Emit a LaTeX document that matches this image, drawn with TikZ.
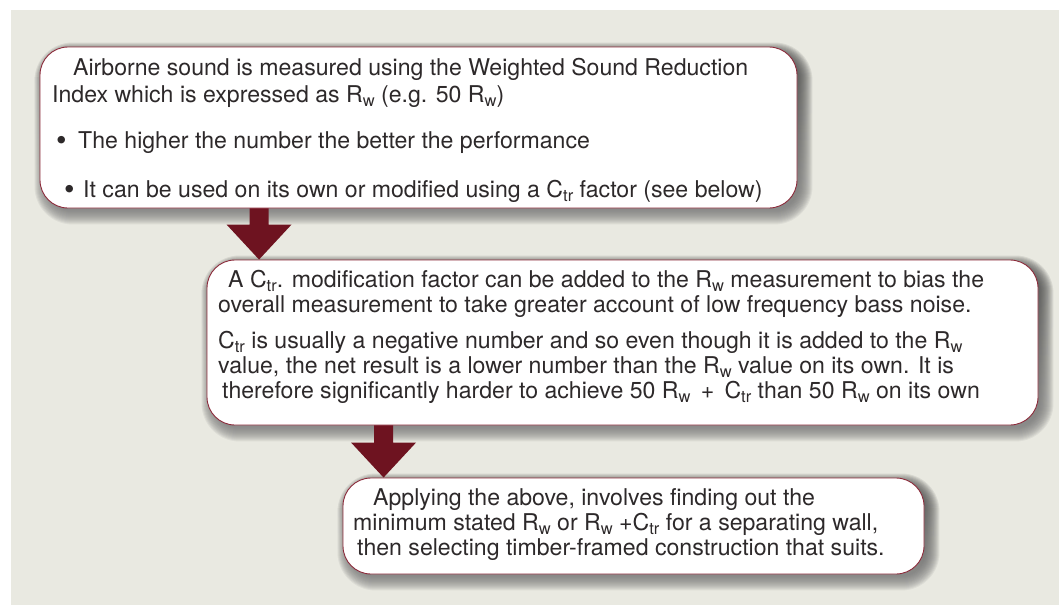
\documentclass[tikz,border=0pt]{standalone}
\usepackage{fontspec}
\setmainfont{TeX Gyre Heros}
\usetikzlibrary{calc}
\definecolor{panel}{RGB}{233,233,225}
\definecolor{maroon}{RGB}{110,19,32}
\definecolor{edgec}{RGB}{140,43,59}
\definecolor{shade}{RGB}{125,30,45}
\definecolor{ink}{RGB}{45,41,42}
\newcommand{\lo}[1]{\raisebox{-0.2em}{\fontsize{16.5}{16.5}\selectfont #1}}
\newcommand{\bul}{\raisebox{-0.12em}{\scalebox{1.3}{\textbullet}}}
\newcommand{\boxshadow}[1]{%
  \foreach \e in {-4,...,10}{%
    \pgfmathsetmacro\rr{28+\e}%
    \fill[shade, opacity=0.055, rounded corners=\rr pt]
      ($(#1.north west)+(5-\e,6-\e)$) rectangle ($(#1.south east)+(5+\e,6+\e)$);}}
\newcommand{\blockarrow}[1]{%
  \fill[maroon] ($(#1)+(-9.5,-62)$) -- ($(#1)+(-9.5,-35)$) -- ($(#1)+(-32.5,-35)$) -- (#1)
    -- ($(#1)+(32.5,-35)$) -- ($(#1)+(9.5,-35)$) -- ($(#1)+(9.5,-62)$) -- cycle;}
\pgfdeclarelayer{bg}
\pgfsetlayers{bg,main}
\begin{document}
\begin{tikzpicture}[x=1pt,y=-1pt,
  box/.style={draw=edgec, line width=0.9pt, fill=white, rounded corners=28pt, inner sep=0pt},
  txt/.style={anchor=base west, inner sep=0pt, text=ink, font=\fontsize{23.1}{26}\selectfont}]
\useasboundingbox (0,0) rectangle (1059,605);
% boxes
\node[box, minimum width=757pt, minimum height=161pt] (b1) at (418.5,127.5) {};
\node[box, minimum width=831pt, minimum height=165pt] (b2) at (622.5,342.5) {};
\node[box, minimum width=581pt, minimum height=96pt] (b3) at (633.5,526) {};
\coordinate (t1) at ($(b2.north west)+(52.5,0)$);
\coordinate (t2) at ($(b3.north west)+(41,0)$);
\begin{pgfonlayer}{bg}
  \fill[panel] (11,10) rectangle (1059,605);
  \boxshadow{b1}
  \boxshadow{b2}
  \boxshadow{b3}
  \blockarrow{t1}
  \blockarrow{t2}
\end{pgfonlayer}
% box 1 text
\node[txt] (l11) at (73,75) {Airborne sound is measured using the Weighted Sound Reduction};
\node[txt] (l12) at (52,102) {Index which is expressed as R\lo{w} (e.g. 50 R\lo{w})};
\node[txt] (bu1) at (56,148) {\bul};
\node[txt] (l13) at (78,148) {The higher the number the better the performance};
\node[txt] (bu2) at (64,197) {\bul};
\node[txt] (l14) at (83,197) {It can be used on its own or modified using a C\lo{tr} factor (see below)};
% box 2 text
\node[txt] (l21) at (228,287) {A C\lo{tr}. modification factor can be added to the R\lo{w} measurement to bias the};
\node[txt] (l22) at (218,312) {overall measurement to take greater account of low frequency bass noise.};
\node[txt] (l23) at (218,348) {C\lo{tr} is usually a negative number and so even though it is added to the R\lo{w}};
\node[txt] (l24) at (218,373) {value, the net result is a lower number than the R\lo{w} value on its own. It is};
\node[txt] (l25) at (222,398) {therefore significantly harder to achieve 50 R\lo{w} \,+\, C\lo{tr} than 50 R\lo{w} on its own};
% box 3 text
\node[txt] (l31) at (373,505) {Applying the above, involves finding out the};
\node[txt] (l32) at (353,530) {minimum stated R\lo{w} or R\lo{w} +C\lo{tr} for a separating wall,};
\node[txt] (l33) at (357,555) {then selecting timber-framed construction that suits.};
\end{tikzpicture}
\end{document}
